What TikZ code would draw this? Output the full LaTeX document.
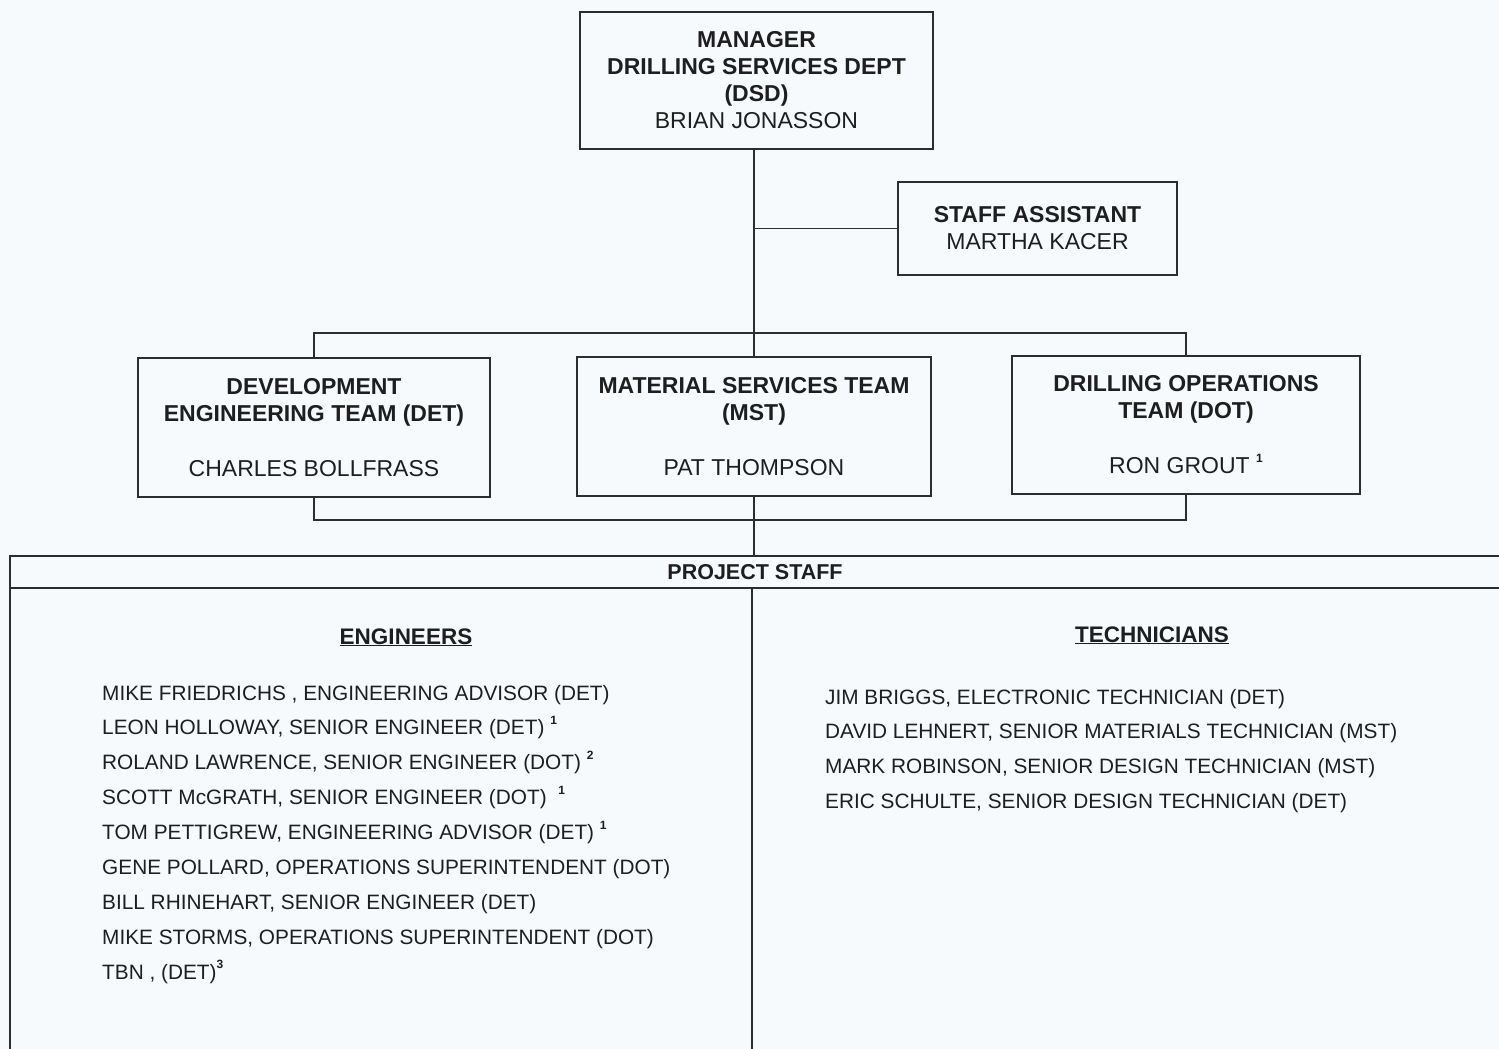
\documentclass[tikz,border=0pt]{standalone}
\usepackage{fontspec}
\setmainfont{Liberation Sans}
\definecolor{paper}{RGB}{246,250,253}
\definecolor{inkc}{RGB}{45,45,45}
\definecolor{txt}{RGB}{30,30,30}
\newcommand\fnote[1]{\raisebox{0.5em}{\fontsize{12}{12}\selectfont\bfseries #1}}
\begin{document}
\begin{tikzpicture}[x=1pt,y=-1pt,
  ink/.style={draw=inkc, line width=1.8pt},
  box/.style={ink, rectangle, inner sep=0pt, align=center, text=txt,
              font=\fontsize{23}{27}\selectfont},
  conn/.style={ink},
  item/.style={anchor=base west, inner sep=0pt, text=txt,
               font=\fontsize{20.8}{24}\selectfont},
  head/.style={anchor=base, inner sep=0pt, text=txt,
               font=\fontsize{22.5}{26}\selectfont\bfseries},
]
% page
\fill[paper] (0,0) rectangle (1499,1049);
\useasboundingbox (0,0) rectangle (1499,1049);

% management boxes
\node[box, minimum width=353pt, minimum height=137pt] (mgr) at (756.5,80.5)
  {\textbf{MANAGER}\\\textbf{DRILLING SERVICES DEPT}\\\textbf{(DSD)}\\BRIAN JONASSON};
\node[box, minimum width=279pt, minimum height=93pt] (staff) at (1037.5,228.5)
  {\textbf{STAFF ASSISTANT}\\MARTHA KACER};

% team boxes
\node[box, minimum width=352pt, minimum height=139pt] (det) at (314,427.5)
  {\textbf{DEVELOPMENT}\\\textbf{ENGINEERING TEAM (DET)}\\[28pt]CHARLES BOLLFRASS};
\node[box, minimum width=354pt, minimum height=139pt] (mst) at (754,426.5)
  {\textbf{MATERIAL SERVICES TEAM}\\\textbf{(MST)}\\[28pt]PAT THOMPSON};
\node[box, minimum width=348pt, minimum height=138pt] (dot) at (1186,425)
  {\textbf{DRILLING OPERATIONS}\\\textbf{TEAM (DOT)}\\[28pt]RON GROUT \fnote{1}};

% connectors
\coordinate (busT) at (754,333);
\coordinate (busB) at (754,520);
\coordinate (psTop) at (754,556);
\draw[conn] (mst.north) -- (mst.north |- mgr.south);
\draw[conn] (staff.west) -- (staff.west -| mst.north);
\draw[conn] (det.north) |- (busT) -| (dot.north);
\draw[conn] (det.south) |- (busB) -| (dot.south);
\draw[conn] (mst.south) -- (psTop);

% project staff panel
\coordinate (psL) at (10,556);
\coordinate (psR) at (1499,556);
\coordinate (psBL) at (10,1049);
\coordinate (hdL) at (10,588);
\coordinate (hdR) at (1499,588);
\coordinate (divT) at (752,588);
\coordinate (divB) at (752,1049);
\draw[conn] (psR) -- (psL) -- (psBL);
\draw[conn] (hdL) -- (hdR);
\draw[conn] (divT) -- (divB);
\node[head, font=\fontsize{21.5}{26}\selectfont\bfseries] (pshead) at (755,579) {PROJECT STAFF};

% engineers
\node[head] (enghead) at (406,644) {\underline{ENGINEERS}};
\node[item] (e1) at (102,700.0) {MIKE FRIEDRICHS , ENGINEERING ADVISOR (DET)};
\node[item] (e2) at (102,734.9) {LEON HOLLOWAY, SENIOR ENGINEER (DET) \fnote{1}};
\node[item] (e3) at (102,769.8) {ROLAND LAWRENCE, SENIOR ENGINEER (DOT) \fnote{2}};
\node[item] (e4) at (102,804.7) {SCOTT McGRATH, SENIOR ENGINEER (DOT) \ \fnote{1}};
\node[item] (e5) at (102,839.6) {TOM PETTIGREW, ENGINEERING ADVISOR (DET) \fnote{1}};
\node[item] (e6) at (102,874.5) {GENE POLLARD, OPERATIONS SUPERINTENDENT (DOT)};
\node[item] (e7) at (102,909.4) {BILL RHINEHART, SENIOR ENGINEER (DET)};
\node[item] (e8) at (102,944.3) {MIKE STORMS, OPERATIONS SUPERINTENDENT (DOT)};
\node[item] (e9) at (102,979.2) {TBN , (DET)\fnote{3}};

% technicians
\node[head] (techhead) at (1152,642) {\underline{TECHNICIANS}};
\node[item] (t1) at (825,704.0) {JIM BRIGGS, ELECTRONIC TECHNICIAN (DET)};
\node[item] (t2) at (825,738.7) {DAVID LEHNERT, SENIOR MATERIALS TECHNICIAN (MST)};
\node[item] (t3) at (825,773.4) {MARK ROBINSON, SENIOR DESIGN TECHNICIAN (MST)};
\node[item] (t4) at (825,808.1) {ERIC SCHULTE, SENIOR DESIGN TECHNICIAN (DET)};
\end{tikzpicture}
\end{document}
